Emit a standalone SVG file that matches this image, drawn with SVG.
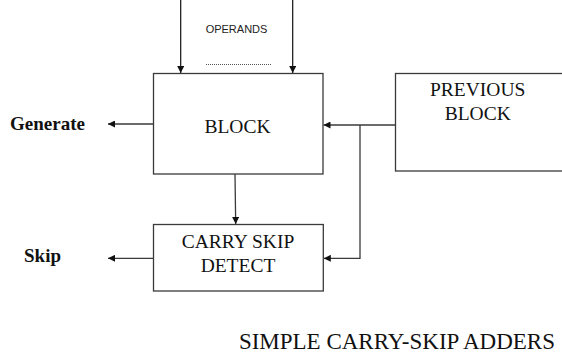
<svg xmlns="http://www.w3.org/2000/svg" width="562" height="358" viewBox="0 0 562 358">
  <style>
    .box { fill: #ffffff; stroke: #3a3a3a; stroke-width: 1.3; }
    .wire { fill: none; stroke: #3a3a3a; stroke-width: 1.3; }
    .label { font-family: "Liberation Serif", "Times New Roman", serif; font-size: 19.5px; fill: #111; text-anchor: middle; }
    .side { font-family: "Liberation Serif", "Times New Roman", serif; font-size: 19px; font-weight: bold; fill: #111; }
    .small { font-family: "Liberation Sans", Arial, sans-serif; font-size: 11px; fill: #222; text-anchor: middle; }
    .title { font-family: "Liberation Serif", "Times New Roman", serif; font-size: 23px; fill: #111; text-anchor: end; }
  </style>
  <defs>
    <marker id="arrow" viewBox="0 0 10 10" refX="10" refY="5" markerWidth="7" markerHeight="7" markerUnits="userSpaceOnUse" orient="auto">
      <path d="M0,0 L10,5 L0,10 z" fill="#111"/>
    </marker>
  </defs>

  <rect width="562" height="358" fill="#ffffff"/>

  <!-- operand inputs -->
  <g id="operands">
    <text class="small" x="236.5" y="33">OPERANDS</text>
    <line x1="206" y1="64.5" x2="271" y2="64.5" stroke="#555" stroke-width="1" stroke-dasharray="1,1"/>
  </g>

  <g id="block">
    <rect class="box" x="153.5" y="73.5" width="169.5" height="100.5"/>
    <text class="label" x="237.5" y="132.5">BLOCK</text>
  </g>

  <g id="previous-block">
    <rect class="box" x="395.5" y="73.5" width="170" height="97.5"/>
    <text class="label" x="477.7" y="96">PREVIOUS</text>
    <text class="label" x="477.7" y="120">BLOCK</text>
  </g>

  <g id="carry-skip-detect">
    <rect class="box" x="153.5" y="224.5" width="169.8" height="66.5"/>
    <text class="label" x="238" y="247.5">CARRY SKIP</text>
    <text class="label" x="238" y="271.5">DETECT</text>
  </g>

  <g id="generate">
    <text class="side" x="10" y="130">Generate</text>
  </g>

  <g id="skip">
    <text class="side" x="24" y="261.5">Skip</text>
  </g>

  <g id="title">
    <text class="title" x="555" y="349">SIMPLE CARRY-SKIP ADDERS</text>
  </g>

  <g id="connectors">
    <line x1="180.7" y1="0" x2="180.7" y2="73" stroke="#111" stroke-width="1.2" marker-end="url(#arrow)"/>
    <line x1="292.7" y1="0" x2="292.7" y2="73" stroke="#111" stroke-width="1.2" marker-end="url(#arrow)"/>
    <line class="wire" x1="395.5" y1="125" x2="323.5" y2="125" marker-end="url(#arrow)"/>
    <polyline class="wire" points="360,125 360,258.3 323.8,258.3" marker-end="url(#arrow)"/>
    <line class="wire" x1="235" y1="174" x2="235.7" y2="224" marker-end="url(#arrow)"/>
    <line class="wire" x1="153.5" y1="124" x2="108" y2="124" marker-end="url(#arrow)"/>
    <line class="wire" x1="153.5" y1="258.3" x2="108" y2="258.3" marker-end="url(#arrow)"/>
  </g>
</svg>
